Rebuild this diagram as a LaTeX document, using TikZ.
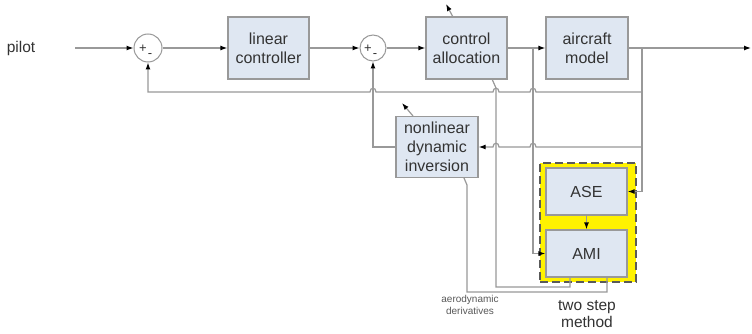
\documentclass[tikz,border=0pt]{standalone}
\usepackage{fontspec}
\setmainfont{Liberation Sans}
\usetikzlibrary{arrows.meta,calc}
\definecolor{boxfill}{HTML}{DFE7F2}
\definecolor{lncol}{HTML}{999999}
\definecolor{txtcol}{HTML}{333333}
\definecolor{dashcol}{HTML}{5A5A5A}
\begin{document}
\begin{tikzpicture}[x=1pt,y=-1pt,
  blk/.style={draw=lncol,fill=boxfill,line width=1.2pt,text=txtcol,font=\fontsize{16}{19}\selectfont,align=center,inner sep=0pt},
  sumc/.style={circle,draw=lncol,line width=1pt,fill=white,minimum size=28pt,inner sep=0pt},
  lnst/.style={draw=lncol,line width=1.2pt},
  arr/.style={lnst,-{Latex[length=7pt,width=5pt,color=black]}},
  sgn/.style={text=txtcol,font=\fontsize{13}{13}\selectfont,inner sep=0pt},
  lbl/.style={text=txtcol,align=center,inner sep=0pt}]
\useasboundingbox (0,0) rectangle (752,334);
\fill[white] (0,0) rectangle (752,334);

% text and blocks
\node[lbl,font=\fontsize{15.5}{18}\selectfont] (pilot) at (21,48) {pilot};
\coordinate (pin) at (75,48);
\node[sumc] (s1) at (148,48) {};
\node[sgn] (s1p) at ($(s1)+(-5,1)$) {+};
\node[sgn] (s1m) at ($(s1)+(2,8)$) {-};
\node[blk,minimum width=81pt,minimum height=62pt] (lc) at (268.5,48) {linear\\controller};
\node[sumc,minimum size=26pt] (s2) at (373,48) {};
\node[sgn] (s2p) at ($(s2)+(-5,1)$) {+};
\node[sgn] (s2m) at ($(s2)+(2,8)$) {-};
\node[blk,minimum width=81pt,minimum height=62pt] (ca) at (466.5,48) {control\\allocation};
\node[blk,minimum width=82pt,minimum height=62pt] (am) at (587,48) {aircraft\\model};
\coordinate (out) at (751,48);
\node[blk,minimum width=82pt,minimum height=61pt] (ndi) at (437,147) {nonlinear\\dynamic\\inversion};

\node[draw=dashcol,fill=yellow,line width=2pt,dash pattern=on 8pt off 4pt,minimum width=96pt,minimum height=119pt,inner sep=0pt] (tsm) at (588,222.5) {};
\node[blk,minimum width=81pt,minimum height=47pt] (ASE) at (586.5,191.5) {ASE};
\node[blk,minimum width=81pt,minimum height=47pt] (AMI) at (586.5,253.5) {AMI};

\node[lbl,font=\fontsize{15.5}{17}\selectfont] (tsmtxt) at (587,314) {two step\\method};
\node[lbl,text=black!65,font=\fontsize{10}{12}\selectfont] (aero) at (470,305) {aerodynamic\\derivatives};

% junctions
\coordinate (j1) at (533,48);
\coordinate (j2) at (642,48);
\coordinate (f1) at (642,92);
\coordinate (f2) at (642,147);

% forward path
\draw[arr] (pin) -- (s1);
\draw[arr] (s1) -- (lc);
\draw[arr] (lc) -- (s2);
\draw[arr] (s2) -- (ca);
\draw[arr] (ca) -- (am);
\draw[arr] (am) -- (out);

% taps to estimator
\draw[arr] (j1) |- (AMI.west);
\draw[arr] (j2) |- (ASE.east);
\draw[arr] (ASE) -- (AMI);

% outer feedback with hops
\draw[arr] (f1) -- (536,92) .. controls (536,87) and (530,87) .. (530,92)
  -- (499,92) .. controls (499,87) and (493,87) .. (493,92)
  -- (376,92) .. controls (376,87) and (370,87) .. (370,92)
  -- (148,92) -- (s1);

% feedback to NDI with hops
\draw[arr] (f2) -- (536,147) .. controls (536,142) and (530,142) .. (530,147)
  -- (499,147) .. controls (499,142) and (493,142) .. (493,147)
  -- (ndi.east);
\draw[arr] (ndi.west) -- (373,147) -- (s2);

% aerodynamic derivatives from AMI
\coordinate (ca1) at (492,79);
\coordinate (ami1) at (570,277);
\draw[lnst] (ca1) -- (496,88) -- (496,287) -| (ami1);
\coordinate (ndi1) at (464,178);
\coordinate (ami2) at (607,277);
\draw[lnst] (ndi1) -- (467,185) -- (467,292) -| (ami2);

% adaptation arrows
\coordinate (caa) at (453,17);
\coordinate (cab) at (446,4);
\draw[arr] (caa) -- (cab);
\coordinate (ndia) at (413,116);
\coordinate (ndib) at (402,103);
\draw[arr] (ndia) -- (ndib);
\end{tikzpicture}
\end{document}
